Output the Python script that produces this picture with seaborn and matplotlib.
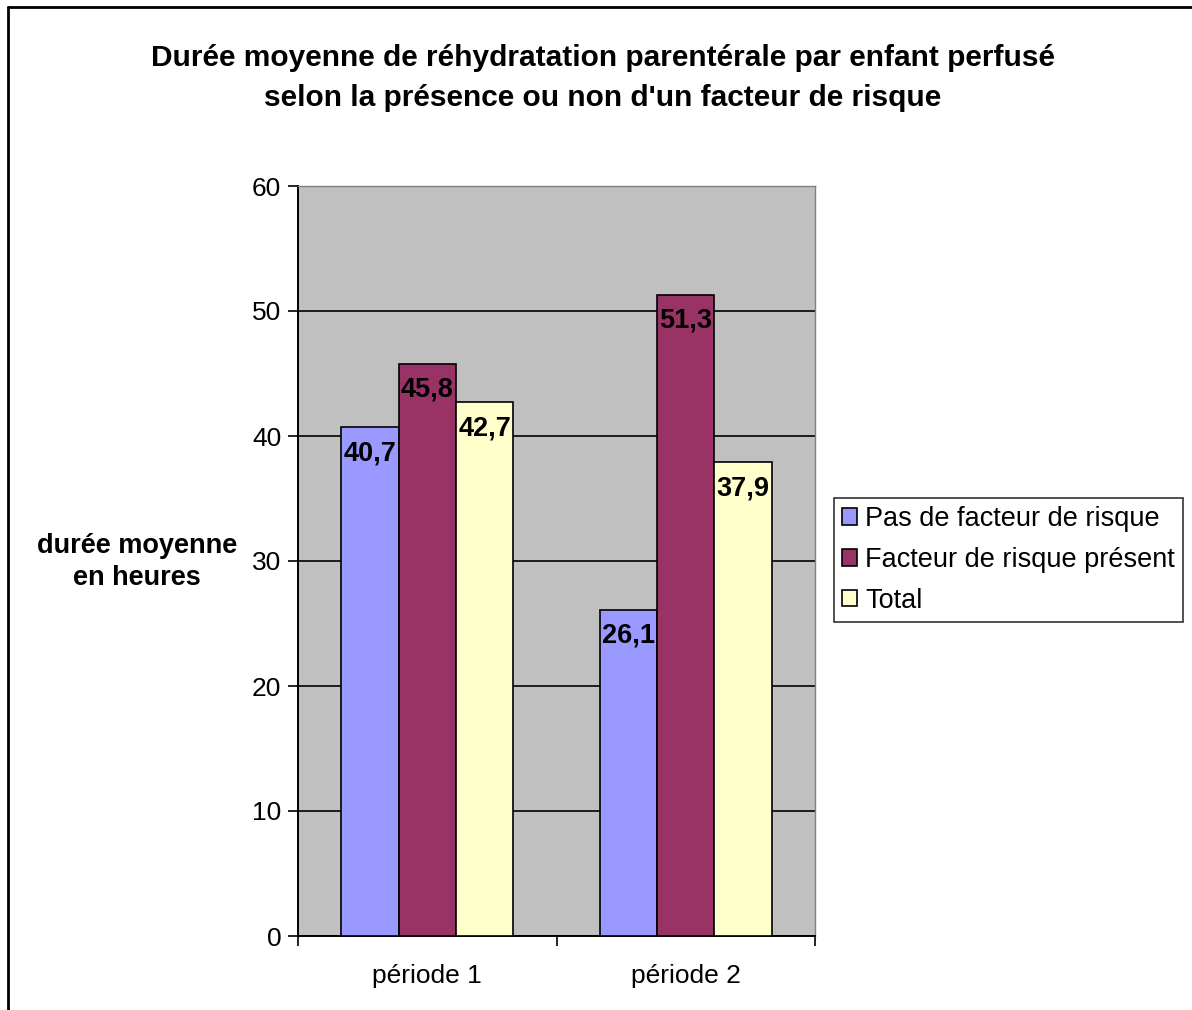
import matplotlib
matplotlib.use("Agg")
import matplotlib.pyplot as plt
from matplotlib.lines import Line2D
import seaborn as sns
import pandas as pd

# données
periodes = ["période 1", "période 2"]
groupes = ["Pas de facteur de risque", "Facteur de risque présent", "Total"]
pas_de_facteur = [40.7, 26.1]
facteur_present = [45.8, 51.3]
total = [42.7, 37.9]
couleurs = ["#9999FF", "#993366", "#FFFFCC"]

df = pd.DataFrame({
    "periode": periodes * 3,
    "groupe": [g for g in groupes for _ in periodes],
    "duree": pas_de_facteur + facteur_present + total,
})

sns.set_style("white")
plt.rcParams["font.family"] = ["Liberation Sans", "DejaVu Sans"]
plt.rcParams["text.color"] = "black"
plt.rcParams["xtick.color"] = "black"
plt.rcParams["ytick.color"] = "black"

W, H = 1192, 1010
fig = plt.figure(figsize=(W / 100, H / 100), dpi=100)
ax = fig.add_axes([298 / W, 1 - 936 / H, (815 - 298) / W, (936 - 186) / H])
ax.set_facecolor("#C0C0C0")

sns.barplot(
    data=df, x="periode", y="duree", hue="groupe",
    palette=couleurs, width=0.667, saturation=1,
    edgecolor="black", linewidth=1.2, ax=ax, zorder=3,
)

ax.set_ylim(0, 60)
ax.set_xlim(-0.5, 1.5)
ax.set_yticks(range(0, 61, 10))
ax.yaxis.grid(True, color="black", linewidth=1.2, zorder=0)
ax.set_axisbelow(True)

ax.tick_params(axis="y", labelsize=19, length=7, width=1.2, direction="out",
               left=True, pad=5, colors="black")
ax.tick_params(axis="x", which="major", length=0, labelsize=19, pad=20,
               colors="black")
ax.set_xticks([-0.5, 0.5, 1.5], minor=True)
ax.tick_params(axis="x", which="minor", length=7, width=1.2, direction="out", bottom=True)

for side in ["left", "bottom"]:
    ax.spines[side].set_color("black")
    ax.spines[side].set_linewidth(1.4)
for side in ["top", "right"]:
    ax.spines[side].set_color("#808080")
    ax.spines[side].set_linewidth(1.0)

ax.set_xlabel("")
ax.set_ylabel("")

for cont in ax.containers:
    ax.bar_label(
        cont,
        labels=[f"{v:.1f}".replace(".", ",") for v in cont.datavalues],
        padding=-28, fontsize=19.5, fontweight="bold", color="black",
    )

leg = ax.get_legend()
handles = leg.legend_handles
leg.remove()
fig.legend(
    handles, groupes, loc="center left",
    bbox_to_anchor=(834 / W, 1 - 560 / H),
    fontsize=19.5, frameon=True, fancybox=False, edgecolor="black",
    handlelength=0.55, handleheight=0.55, handletextpad=0.3,
    labelspacing=0.55, borderpad=0.3, borderaxespad=0,
).get_frame().set_linewidth(1.2)

fig.text(603 / W, 1 - 78 / H,
         "Durée moyenne de réhydratation parentérale par enfant perfusé\n"
         "selon la présence ou non d'un facteur de risque",
         ha="center", va="center", fontsize=21.5, fontweight="bold",
         linespacing=1.5)

fig.text(137 / W, 1 - 562 / H, "durée moyenne\nen heures",
         ha="center", va="center", fontsize=19.5, fontweight="bold",
         linespacing=1.3)

# cadre du graphique (bords gauche et haut visibles)
fig.add_artist(Line2D([8 / W, 1], [1 - 7 / H, 1 - 7 / H],
                      transform=fig.transFigure, color="black", linewidth=2))
fig.add_artist(Line2D([8 / W, 8 / W], [0, 1 - 7 / H],
                      transform=fig.transFigure, color="black", linewidth=2))

fig.savefig("out.png", dpi=100, facecolor="white")
